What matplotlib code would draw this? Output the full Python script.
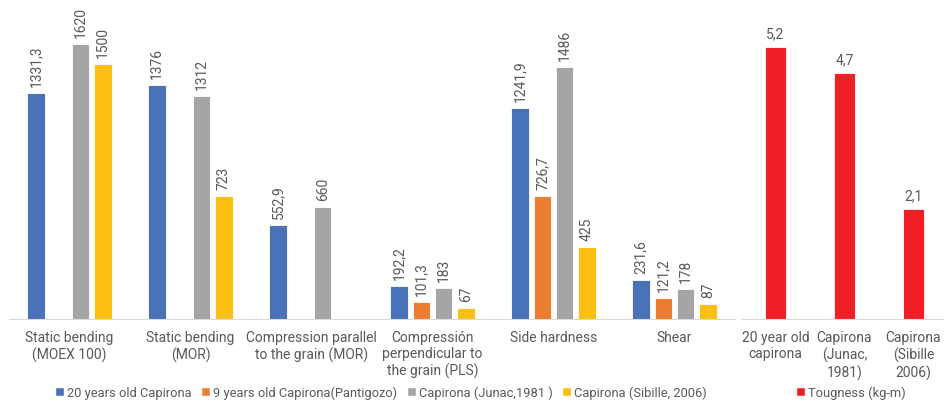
import matplotlib
matplotlib.use("Agg")
import matplotlib.pyplot as plt
import numpy as np
from matplotlib.patches import Patch

plt.rcParams['font.family'] = ['Roboto', 'DejaVu Sans']

categories = ["Static bending\n(MOEX 100)", "Static bending\n(MOR)",
              "Compression parallel\nto the grain (MOR)",
              "Compressión\nperpendicular to\nthe grain (PLS)",
              "Side hardness", "Shear"]
series_names = ["20 years old Capirona", "9 years old Capirona(Pantigozo)",
                "Capirona (Junac,1981 )", "Capirona (Sibille, 2006)"]
blue = [1331.3, 1376, 552.9, 192.2, 1241.9, 231.6]
orange = [None, None, None, 101.3, 726.7, 121.2]
gray = [1620, 1312, 660, 183, 1486, 178]
yellow = [1500, 723, None, 67, 425, 87]
series = [blue, orange, gray, yellow]
colors = ["#4a72b8", "#ed7d31", "#a5a5a5", "#fcbf12"]

tough_cats = ["20 year old\ncapirona", "Capirona\n(Junac,\n1981)", "Capirona\n(Sibille\n2006)"]
tough_vals = [5.2, 4.7, 2.1]
tough_name = "Tougness (kg-m)"
red = "#ee1f25"

txt = "#595959"
W, H = 945, 402
fig = plt.figure(figsize=(W/100, H/100), dpi=100)

bottom = (H-320)/H
top = 1-14.4/H
ax = fig.add_axes([9/W, bottom, (735-9)/W, top-bottom])
ax2 = fig.add_axes([741/W, bottom, (948-741)/W, top-bottom])

def fmt(v):
    s = ("%.1f" % v).replace(".", ",")
    if s.endswith(",0"):
        s = s[:-2]
    return s

fs = 10
x = np.arange(len(categories))
slot = 22.3/121
bw = 17.5/121
for i, (vals, c) in enumerate(zip(series, colors)):
    off = (i-1.5)*slot
    for j, v in enumerate(vals):
        if v is None:
            continue
        ax.bar(x[j]+off, v, width=bw, color=c, edgecolor="white", linewidth=0.6)
        ax.annotate(fmt(v), (x[j]+off, v), xytext=(0, 5), textcoords="offset points",
                    rotation=90, ha="center", va="bottom", fontsize=fs, color=txt)
ax.set_xlim(-0.5, 5.5)
ax.set_ylim(0, 1800)
ax.set_xticks(x)
ax.set_xticklabels(categories, fontsize=fs, color=txt, linespacing=1.2)
ax.tick_params(axis='x', length=0, pad=8)
ax.set_yticks([])
for s in ["top", "right", "left"]:
    ax.spines[s].set_visible(False)
ax.spines["bottom"].set_color("#d9d9d9")

x2 = np.arange(len(tough_cats))
ax2.bar(x2, tough_vals, width=0.31, color=red, edgecolor="white", linewidth=0.6)
for xi, v in zip(x2, tough_vals):
    ax2.annotate(fmt(v), (xi, v), xytext=(0, 5), textcoords="offset points",
                 ha="center", va="bottom", fontsize=fs, color=txt)
ax2.set_xlim(-0.5, 2.5)
ax2.set_ylim(0, 305.6/52.3)
ax2.set_xticks(x2)
ax2.set_xticklabels(tough_cats, fontsize=fs, color=txt, linespacing=1.2)
ax2.tick_params(axis='x', length=0, pad=8)
ax2.set_yticks([])
for s in ["top", "right", "left"]:
    ax2.spines[s].set_visible(False)
ax2.spines["bottom"].set_color("#d9d9d9")

handles = [Patch(facecolor=c, edgecolor="white") for c in colors]
fig.legend(handles, series_names, loc="center", bbox_to_anchor=(381/W, 1-393/H),
           ncol=4, frameon=False, fontsize=9.3, labelcolor=txt,
           handlelength=0.7, handleheight=0.7, handletextpad=0.25, columnspacing=0.7,
           borderpad=0, borderaxespad=0)
fig.legend([Patch(facecolor=red, edgecolor="white")], [tough_name], loc="center",
           bbox_to_anchor=(851/W, 1-393/H), frameon=False, fontsize=9.3, labelcolor=txt,
           handlelength=0.7, handleheight=0.7, handletextpad=0.25,
           borderpad=0, borderaxespad=0)

fig.savefig("out.png", dpi=100)
